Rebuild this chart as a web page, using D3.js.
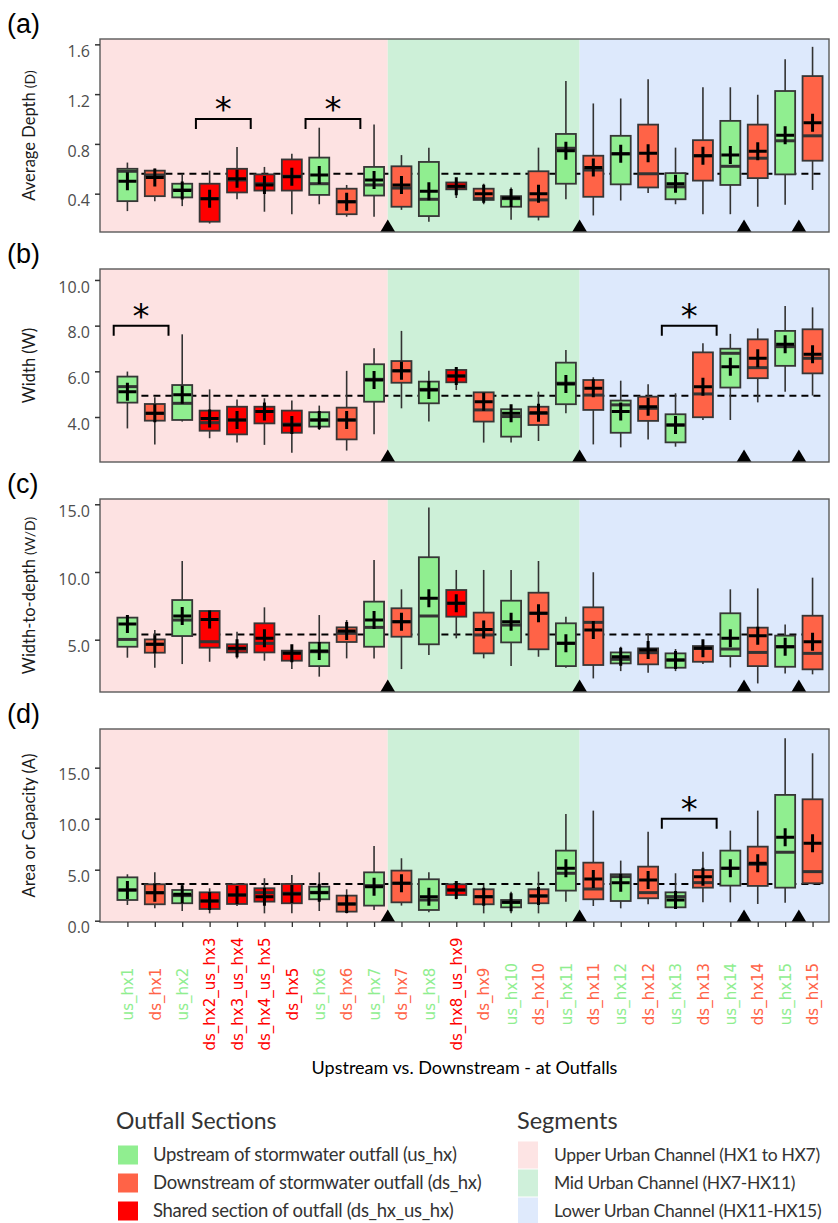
<!DOCTYPE html>
<html>
<head>
<meta charset="utf-8">
<script src="https://cdn.jsdelivr.net/npm/d3@7"></script>
<style>
  body { margin: 0; background: #fff; }
</style>
</head>
<body>
<div id="chart"></div>
<script>
// categories along the channel, upstream -> downstream
var categories = ["us_hx1", "ds_hx1", "us_hx2", "ds_hx2_us_hx3", "ds_hx3_us_hx4", "ds_hx4_us_hx5",
  "ds_hx5", "us_hx6", "ds_hx6", "us_hx7", "ds_hx7", "us_hx8", "ds_hx8_us_hx9", "ds_hx9",
  "us_hx10", "ds_hx10", "us_hx11", "ds_hx11", "us_hx12", "ds_hx12", "us_hx13", "ds_hx13",
  "us_hx14", "ds_hx14", "us_hx15", "ds_hx15"];
var sections = ["us", "ds", "us", "shared", "shared", "shared", "shared", "us", "ds", "us", "ds", "us",
  "shared", "ds", "us", "ds", "us", "ds", "us", "ds", "us", "ds", "us", "ds", "us", "ds"];

// [lower whisker, q1, median, q3, upper whisker, mean]
var depthStats = [
  [0.26, 0.34, 0.58, 0.60, 0.65, 0.50], [0.34, 0.38, 0.55, 0.585, 0.60, 0.53],
  [0.30, 0.37, 0.43, 0.48, 0.56, 0.425], [0.16, 0.175, 0.36, 0.48, 0.585, 0.36],
  [0.355, 0.41, 0.51, 0.60, 0.775, 0.52], [0.255, 0.425, 0.48, 0.555, 0.615, 0.47],
  [0.235, 0.425, 0.54, 0.675, 0.72, 0.535], [0.315, 0.39, 0.48, 0.69, 0.93, 0.55],
  [0.215, 0.235, 0.335, 0.44, 0.47, 0.335], [0.215, 0.385, 0.47, 0.615, 0.955, 0.51],
  [0.27, 0.295, 0.445, 0.62, 0.71, 0.47], [0.175, 0.22, 0.355, 0.655, 0.77, 0.42],
  [0.365, 0.435, 0.455, 0.49, 0.505, 0.46], [0.315, 0.35, 0.36, 0.44, 0.48, 0.40],
  [0.19, 0.295, 0.36, 0.38, 0.45, 0.365], [0.185, 0.215, 0.35, 0.58, 0.77, 0.40],
  [0.355, 0.48, 0.765, 0.88, 1.305, 0.745], [0.225, 0.375, 0.59, 0.705, 1.125, 0.61],
  [0.345, 0.475, 0.72, 0.865, 1.165, 0.72], [0.405, 0.45, 0.56, 0.955, 1.32, 0.725],
  [0.315, 0.355, 0.455, 0.565, 0.77, 0.48], [0.235, 0.505, 0.705, 0.83, 1.255, 0.705],
  [0.235, 0.47, 0.62, 0.985, 1.255, 0.71], [0.295, 0.525, 0.685, 0.955, 1.195, 0.74],
  [0.31, 0.555, 0.825, 1.225, 1.48, 0.87], [0.43, 0.665, 0.865, 1.345, 1.58, 0.97]
];
var widthStats = [
  [3.50, 4.63, 5.33, 5.77, 5.99, 5.11], [2.80, 3.84, 4.16, 4.57, 4.86, 4.16],
  [3.80, 3.87, 4.60, 5.40, 7.62, 4.97], [3.07, 3.40, 3.75, 4.28, 5.21, 3.94],
  [2.88, 3.24, 3.87, 4.45, 4.77, 3.87], [2.78, 3.72, 4.24, 4.45, 4.82, 4.24],
  [2.44, 3.31, 3.69, 4.28, 4.72, 3.65], [3.43, 3.58, 3.87, 4.21, 4.50, 3.87],
  [2.53, 3.02, 3.87, 4.41, 6.02, 3.87], [3.24, 4.67, 5.65, 6.31, 7.01, 5.62],
  [4.38, 5.50, 6.02, 6.45, 7.77, 6.02], [3.80, 4.60, 5.21, 5.55, 6.02, 5.18],
  [5.18, 5.52, 5.80, 6.06, 6.16, 5.80], [2.88, 3.80, 4.31, 5.08, 5.08, 4.67],
  [2.88, 3.14, 4.02, 4.34, 4.45, 4.16], [2.95, 3.65, 4.16, 4.45, 5.11, 4.19],
  [4.16, 4.56, 5.48, 6.38, 6.93, 5.45], [2.80, 4.31, 4.96, 5.62, 5.74, 5.26],
  [2.67, 3.31, 4.53, 4.72, 5.59, 4.24], [3.02, 3.83, 4.38, 4.89, 5.43, 4.45],
  [2.70, 2.89, 3.65, 4.12, 5.04, 3.65], [3.87, 3.99, 5.01, 6.83, 7.23, 5.33],
  [3.87, 5.29, 6.79, 6.99, 7.64, 6.20], [4.64, 5.70, 6.16, 7.40, 7.88, 6.57],
  [5.11, 6.24, 7.08, 7.77, 8.86, 7.18], [4.94, 5.91, 6.57, 7.84, 8.80, 6.75]
];
var ratioStats = [
  [3.67, 4.48, 5.02, 6.63, 6.75, 6.16], [2.93, 4.04, 4.66, 5.02, 5.71, 4.66],
  [3.20, 5.27, 6.45, 7.93, 10.81, 6.75], [3.37, 4.41, 4.85, 7.12, 7.12, 6.50],
  [3.62, 4.06, 4.31, 4.66, 5.59, 4.36], [3.45, 4.06, 4.73, 6.21, 7.39, 5.10],
  [2.83, 3.45, 4.04, 4.19, 4.53, 3.99], [2.27, 3.05, 4.11, 4.78, 6.82, 4.16],
  [3.62, 4.83, 5.47, 5.91, 6.45, 5.64], [3.62, 4.48, 5.91, 7.81, 10.89, 6.45],
  [2.83, 5.22, 6.33, 7.32, 8.72, 6.33], [3.87, 4.66, 6.75, 11.09, 14.76, 8.06],
  [5.10, 6.70, 7.69, 8.67, 10.15, 7.69], [3.62, 3.99, 5.35, 7.00, 10.15, 5.76],
  [3.05, 4.80, 6.08, 7.88, 10.15, 6.33], [3.74, 4.29, 6.95, 8.47, 10.81, 6.95],
  [2.93, 3.05, 4.73, 6.21, 6.70, 4.73], [2.14, 3.13, 6.28, 7.39, 9.98, 5.71],
  [2.68, 3.25, 3.55, 4.06, 4.48, 3.74], [2.56, 3.18, 4.04, 4.36, 5.47, 4.24],
  [2.68, 2.93, 3.50, 3.99, 4.31, 3.50], [3.20, 3.37, 4.36, 4.53, 4.97, 4.36],
  [2.95, 3.79, 4.31, 6.95, 8.72, 5.10], [1.77, 3.05, 4.06, 5.89, 8.79, 5.30],
  [2.51, 3.00, 4.48, 5.30, 6.13, 4.48], [2.44, 2.81, 3.99, 6.77, 9.58, 4.85]
];
var areaStats = [
  [1.54, 2.03, 3.01, 4.25, 4.55, 3.01], [1.21, 1.61, 2.75, 3.57, 4.74, 2.75],
  [0.95, 1.71, 2.46, 3.01, 3.50, 2.59], [0.72, 1.15, 1.93, 2.78, 3.18, 1.93],
  [1.44, 1.64, 2.52, 3.57, 3.67, 2.52], [0.72, 1.87, 2.75, 3.18, 4.16, 2.36],
  [0.72, 1.71, 2.69, 3.60, 4.48, 2.62], [0.95, 2.10, 2.78, 3.34, 4.74, 2.75],
  [0.72, 0.89, 1.64, 2.46, 3.08, 1.64], [1.05, 1.48, 3.44, 4.74, 7.33, 3.34],
  [1.48, 1.80, 3.67, 4.91, 6.12, 3.67], [0.82, 1.05, 2.03, 4.06, 4.74, 2.36],
  [2.10, 2.52, 3.01, 3.57, 3.73, 3.01], [0.72, 1.61, 2.36, 3.08, 3.50, 2.36],
  [0.72, 1.31, 1.80, 2.03, 2.85, 1.80], [0.72, 1.71, 2.43, 3.08, 4.81, 2.43],
  [1.87, 2.95, 4.65, 6.87, 10.46, 5.14], [1.44, 2.10, 3.11, 5.69, 10.79, 4.09],
  [1.21, 1.93, 4.32, 4.55, 5.89, 3.73], [1.61, 2.20, 2.75, 5.30, 8.73, 3.99],
  [1.21, 1.31, 2.36, 2.78, 4.65, 2.03], [1.80, 3.24, 3.73, 4.97, 6.77, 4.32],
  [1.80, 3.44, 5.14, 6.87, 8.83, 5.14], [1.64, 3.41, 5.53, 7.26, 10.79, 5.63],
  [1.77, 3.24, 6.71, 12.33, 17.88, 8.18], [3.57, 3.67, 4.81, 11.90, 16.41, 7.59]
];

// overall reference (dashed) values
var refValues = [0.56, 4.93, 5.39, 3.60];

// tick values per panel
var depthTicks = [0.4, 0.8, 1.2, 1.6];
var widthTicks = [4, 6, 8, 10];
var ratioTicks = [5, 10, 15];
var areaTicks = [0, 5, 10, 15];

// significance brackets: [from category, to category, bracket value]
var depthBrackets = [[3, 4, 1.0], [7, 8, 1.0]];
var widthBrackets = [[0, 1, 8.0], [20, 21, 8.0]];
var ratioBrackets = [];
var areaBrackets = [[20, 21, 10.0]];

// outfall markers (between categories)
var outfallMarks = [9.5, 16.5, 22.5, 24.5];

// channel segments: [start, end] in category units
var segmentBounds = [[-1, 9.5], [9.5, 16.5], [16.5, 25.6]];
var segmentLabels = ["Upper Urban Channel (HX1 to HX7)", "Mid Urban Channel (HX7-HX11)", "Lower Urban Channel (HX11-HX15)"];
var sectionKeys = ["us", "ds", "shared"];
var sectionLabels = ["Upstream of stormwater outfall (us_hx)", "Downstream of stormwater outfall (ds_hx)", "Shared section of outfall (ds_hx_us_hx)"];

var fillColor = { us: "#90ee90", ds: "#ff6347", shared: "#ff0000" };
var segColor = ["#fde2e2", "#cdf0d8", "#dde9fc"];
var segKeyColor = ["#fde4e4", "#cff0da", "#dfeafc"];

var W = 838, H = 1223;
var panelH = 193;
var boxW = 20;

var panels = [
  { tag: "(a)", title: "Average Depth ", sub: "(D)", subSmall: true, stats: depthStats, ticks: depthTicks,
    brackets: depthBrackets, top: 39, domain: [0.092, 1.643] },
  { tag: "(b)", title: "Width ", sub: "(W)", subSmall: false, stats: widthStats, ticks: widthTicks,
    brackets: widthBrackets, top: 269, domain: [2.03, 10.48] },
  { tag: "(c)", title: "Width-to-depth ", sub: "(W/D)", subSmall: true, stats: ratioStats, ticks: ratioTicks,
    brackets: ratioBrackets, top: 499, domain: [1.137, 15.39] },
  { tag: "(d)", title: "Area or Capacity ", sub: "(A)", subSmall: false, stats: areaStats, ticks: areaTicks,
    brackets: areaBrackets, top: 729, domain: [-0.127, 18.79] }
];

var svg = d3.select("#chart").append("svg")
  .attr("width", W)
  .attr("height", H);

var x = d3.scaleLinear().domain([-1, 25.6]).range([100, 829]);

panels.forEach(function (p, pi) {
  var bottom = p.top + panelH;
  var y = d3.scaleLinear().domain(p.domain).range([bottom, p.top]);
  var g = svg.append("g");

  // segment backgrounds
  g.selectAll("rect.seg")
    .data(segmentBounds)
    .enter()
    .append("rect")
      .attr("class", "seg")
      .attr("x", function (d) { return x(d[0]); })
      .attr("y", p.top)
      .attr("width", function (d) { return x(d[1]) - x(d[0]); })
      .attr("height", panelH)
      .style("fill", function (d, i) { return segColor[i]; });

  // dashed reference line
  g.append("line")
    .attr("x1", x(0) - 10)
    .attr("x2", x(categories.length - 1) + 8)
    .attr("y1", y(refValues[pi]))
    .attr("y2", y(refValues[pi]))
    .style("stroke", "#000")
    .style("stroke-width", 2)
    .style("stroke-dasharray", "7,5");

  var boxes = g.selectAll("g.box")
    .data(p.stats)
    .enter()
    .append("g")
      .attr("class", "box")
      .attr("transform", function (d, i) { return "translate(" + x(i) + ",0)"; });

  // whiskers
  boxes.append("line")
    .attr("y1", function (d) { return y(d[0]); })
    .attr("y2", function (d) { return y(d[4]); })
    .style("stroke", "#333")
    .style("stroke-width", 1.6);

  // boxes
  boxes.append("rect")
    .attr("x", -boxW / 2)
    .attr("y", function (d) { return y(d[3]); })
    .attr("width", boxW)
    .attr("height", function (d) { return y(d[1]) - y(d[3]); })
    .style("fill", function (d, i) { return fillColor[sections[i]]; })
    .style("stroke", "#363636")
    .style("stroke-width", 1.8);

  // medians
  boxes.append("line")
    .attr("x1", -boxW / 2)
    .attr("x2", boxW / 2)
    .attr("y1", function (d) { return y(d[2]); })
    .attr("y2", function (d) { return y(d[2]); })
    .style("stroke", "#333")
    .style("stroke-width", 3);

  // means as "+" crosses
  boxes.append("path")
    .attr("d", function (d) {
      var m = y(d[5]);
      return "M-9," + m + "H9M0," + (m - 9) + "V" + (m + 9);
    })
    .style("stroke", "#000")
    .style("stroke-width", 3)
    .style("fill", "none");

  // outfall triangles
  g.selectAll("path.tri")
    .data(outfallMarks)
    .enter()
    .append("path")
      .attr("class", "tri")
      .attr("d", function (d) {
        var cx = x(d);
        return "M" + (cx - 7.5) + "," + bottom + "L" + (cx + 7.5) + "," + bottom + "L" + cx + "," + (bottom - 12.5) + "Z";
      })
      .style("fill", "#000");

  // significance brackets
  var br = g.selectAll("g.bracket")
    .data(p.brackets)
    .enter()
    .append("g")
      .attr("class", "bracket");
  br.append("path")
    .attr("d", function (d) {
      var by = y(d[2]);
      var xa = x(d[0] - 0.5), xb = x(d[1] + 0.5);
      return "M" + xa + "," + (by + 10) + "V" + by + "H" + xb + "V" + (by + 10);
    })
    .style("fill", "none")
    .style("stroke", "#000")
    .style("stroke-width", 2);
  br.append("text")
    .attr("x", function (d) { return (x(d[0]) + x(d[1])) / 2; })
    .attr("y", function (d) { return y(d[2]) + 2; })
    .attr("text-anchor", "middle")
    .style("font-family", "DejaVu Sans")
    .style("font-size", "34px")
    .text("*");

  // panel border
  g.append("rect")
    .attr("x", x.range()[0])
    .attr("y", p.top)
    .attr("width", x.range()[1] - x.range()[0])
    .attr("height", panelH)
    .style("fill", "none")
    .style("stroke", "#5a5a5a")
    .style("stroke-width", 1.4);

  // y axis
  var yAxis = g.append("g")
    .attr("transform", "translate(" + x.range()[0] + ",0)")
    .call(d3.axisLeft(y)
      .tickValues(p.ticks)
      .tickSize(5)
      .tickPadding(5)
      .tickFormat(d3.format(".1f")));
  yAxis.select(".domain").remove();
  yAxis.selectAll(".tick line").style("stroke", "#333").style("stroke-width", 1.5);
  yAxis.selectAll(".tick text")
    .attr("y", 7)
    .style("fill", "#4d4d4d")
    .style("font-family", "Open Sans")
    .style("font-size", "16px");

  // y title
  var yt = svg.append("text")
    .attr("transform", "translate(29," + (p.top + panelH / 2) + ") rotate(-90)")
    .attr("text-anchor", "middle")
    .attr("dy", "0.35em")
    .style("font-family", "Lato")
    .style("font-size", "16.5px")
    .style("fill", "#1a1a1a");
  yt.append("tspan").text(p.title);
  yt.append("tspan").style("font-size", p.subSmall ? "14px" : "16.5px").text(p.sub);

  // panel tag
  svg.append("text")
    .attr("x", 7)
    .attr("y", p.top - 6)
    .style("font-family", "Liberation Sans")
    .style("font-size", "27px")
    .style("fill", "#000")
    .text(p.tag);

  // x axis on bottom panel only
  if (pi === panels.length - 1) {
    var xAxis = g.append("g")
      .attr("transform", "translate(0," + bottom + ")")
      .call(d3.axisBottom(x)
        .tickValues(d3.range(categories.length))
        .tickSize(5)
        .tickFormat(function (i) { return categories[i]; }));
    xAxis.select(".domain").remove();
    xAxis.selectAll(".tick line").style("stroke", "#333").style("stroke-width", 1.3);
    xAxis.selectAll(".tick text")
      .attr("y", null)
      .attr("dy", "0.35em")
      .attr("transform", "translate(0,72) rotate(-90)")
      .style("text-anchor", "middle")
      .style("font-family", "DejaVu Sans")
      .style("font-size", "15px")
      .style("fill", function (i) { return fillColor[sections[i]]; });

    svg.append("text")
      .attr("x", (x.range()[0] + x.range()[1]) / 2)
      .attr("y", 1068)
      .attr("dy", "0.35em")
      .attr("text-anchor", "middle")
      .style("font-family", "Lato")
      .style("font-size", "18px")
      .style("fill", "#000")
      .text("Upstream vs. Downstream - at Outfalls");
  }
});

// legends
var rowY = [1155, 1183, 1211];

svg.append("text")
  .attr("x", 116)
  .attr("y", 1129)
  .style("font-family", "Lato")
  .style("font-size", "23px")
  .style("fill", "#333")
  .text("Outfall Sections");

var leg1 = svg.selectAll("g.leg1")
  .data(sectionKeys)
  .enter()
  .append("g")
    .attr("class", "leg1");
leg1.append("rect")
  .attr("x", 118)
  .attr("y", function (d, i) { return rowY[i] - 9.5; })
  .attr("width", 20)
  .attr("height", 19)
  .style("fill", function (d) { return fillColor[d]; });
leg1.append("text")
  .attr("x", 153)
  .attr("y", function (d, i) { return rowY[i]; })
  .attr("dy", "0.35em")
  .style("font-family", "Lato")
  .style("font-size", "18.5px")
  .style("letter-spacing", "-0.3px")
  .style("fill", "#333")
  .text(function (d, i) { return sectionLabels[i]; });

svg.append("text")
  .attr("x", 517)
  .attr("y", 1129)
  .style("font-family", "Lato")
  .style("font-size", "23.5px")
  .style("fill", "#333")
  .text("Segments");

var leg2 = svg.selectAll("g.leg2")
  .data(segmentLabels)
  .enter()
  .append("g")
    .attr("class", "leg2");
leg2.append("rect")
  .attr("x", 518)
  .attr("y", function (d, i) { return rowY[i] - 13.5; })
  .attr("width", 20)
  .attr("height", 27)
  .style("fill", function (d, i) { return segKeyColor[i]; });
leg2.append("text")
  .attr("x", 554)
  .attr("y", function (d, i) { return rowY[i]; })
  .attr("dy", "0.35em")
  .style("font-family", "Lato")
  .style("font-size", "17.5px")
  .style("letter-spacing", "-0.3px")
  .style("fill", "#333")
  .text(function (d) { return d; });
</script>
</body>
</html>
